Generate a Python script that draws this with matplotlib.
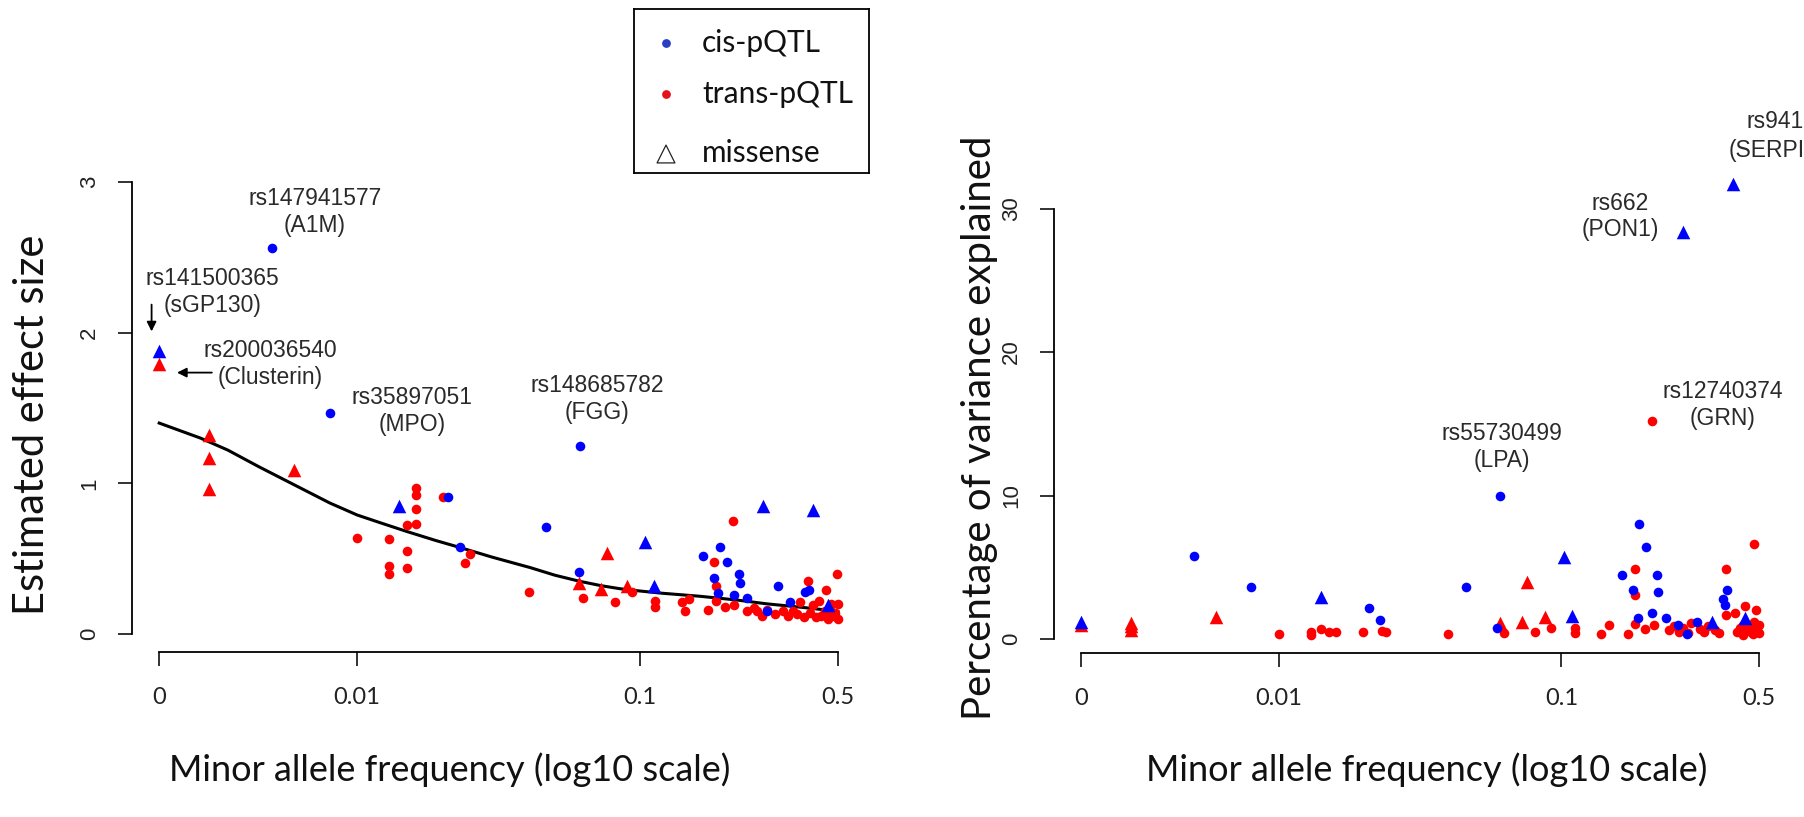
import matplotlib.pyplot as plt

W, H = 1804, 817

# ---------------- left panel: estimated effect size ----------------
left_cis_maf = [0.005, 0.008, 0.021, 0.0232, 0.0464, 0.0613, 0.061, 0.167, 0.192, 0.203,
                0.183, 0.223, 0.225, 0.189, 0.214, 0.239, 0.308, 0.34, 0.382, 0.394, 0.282]
left_cis_eff = [2.56, 1.47, 0.91, 0.58, 0.71, 1.25, 0.41, 0.52, 0.58, 0.48,
                0.37, 0.40, 0.34, 0.27, 0.26, 0.24, 0.32, 0.21, 0.28, 0.29, 0.15]

left_cis_mis_maf = [0.002, 0.0141, 0.104, 0.112, 0.273, 0.41, 0.461]
left_cis_mis_eff = [1.88, 0.85, 0.61, 0.32, 0.85, 0.82, 0.19]

left_trans_mis_maf = [0.002, 0.003, 0.003, 0.003, 0.006, 0.061, 0.0727, 0.0762, 0.090]
left_trans_mis_eff = [1.79, 1.32, 1.17, 0.96, 1.09, 0.34, 0.30, 0.54, 0.32]

left_trans_maf = [0.01, 0.013, 0.013, 0.013, 0.015, 0.015, 0.015, 0.0161, 0.0161, 0.0161,
                  0.0161, 0.0202, 0.0241, 0.025, 0.0404, 0.063, 0.0815, 0.0937, 0.113, 0.113,
                  0.141, 0.144, 0.149, 0.174, 0.185, 0.186, 0.183, 0.200, 0.214, 0.213,
                  0.239, 0.252, 0.260, 0.282, 0.321, 0.332, 0.348, 0.369, 0.391, 0.410,
                  0.428, 0.435, 0.453, 0.472, 0.484, 0.495, 0.50, 0.50, 0.461, 0.36,
                  0.38, 0.40, 0.45, 0.49, 0.42, 0.47, 0.30, 0.27]
left_trans_eff = [0.64, 0.63, 0.45, 0.40, 0.72, 0.55, 0.44, 0.97, 0.92, 0.83,
                  0.73, 0.91, 0.47, 0.53, 0.28, 0.24, 0.21, 0.28, 0.22, 0.18,
                  0.21, 0.15, 0.23, 0.16, 0.22, 0.32, 0.48, 0.18, 0.19, 0.75,
                  0.15, 0.17, 0.15, 0.16, 0.15, 0.12, 0.15, 0.21, 0.35, 0.19,
                  0.22, 0.12, 0.29, 0.20, 0.12, 0.40, 0.10, 0.20, 0.10, 0.13,
                  0.11, 0.14, 0.15, 0.14, 0.11, 0.16, 0.13, 0.12]

# fitted trend line
curve_maf = [0.002, 0.0028, 0.0035, 0.0045, 0.006, 0.008, 0.01, 0.012, 0.015, 0.019,
             0.023, 0.03, 0.041, 0.05, 0.061, 0.073, 0.085, 0.1, 0.12, 0.163,
             0.22, 0.28, 0.38, 0.5]
curve_eff = [1.40, 1.30, 1.22, 1.11, 0.99, 0.87, 0.79, 0.74, 0.68, 0.62,
             0.575, 0.51, 0.44, 0.39, 0.35, 0.32, 0.30, 0.285, 0.27, 0.25,
             0.225, 0.20, 0.175, 0.15]

# ---------------- right panel: % variance explained ----------------
right_cis_maf = [0.005, 0.008, 0.0209, 0.0228, 0.0459, 0.0605, 0.059, 0.164, 0.188, 0.199,
                 0.179, 0.218, 0.22, 0.187, 0.209, 0.234, 0.258, 0.278, 0.301, 0.385,
                 0.372, 0.38]
right_cis_pve = [5.8, 3.6, 2.2, 1.33, 3.6, 10.0, 0.77, 4.5, 8.0, 6.4,
                 3.4, 4.5, 3.3, 1.5, 1.8, 1.5, 1.0, 0.35, 1.2, 3.4,
                 2.8, 2.4]

right_cis_mis_maf = [0.002, 0.0141, 0.1024, 0.109, 0.269, 0.404, 0.340, 0.445]
right_cis_mis_pve = [1.19, 2.9, 5.7, 1.6, 28.4, 31.75, 1.2, 1.5]

right_trans_mis_maf = [0.002, 0.003, 0.003, 0.003, 0.006, 0.0605, 0.0724, 0.0753, 0.0877]
right_trans_mis_pve = [0.98, 1.1, 0.9, 0.65, 1.53, 1.1, 1.19, 4.0, 1.53]

right_trans_maf = [0.01, 0.013, 0.013, 0.0141, 0.0151, 0.016, 0.0199, 0.0232, 0.024, 0.0397,
                   0.0625, 0.081, 0.092, 0.112, 0.112, 0.138, 0.148, 0.172, 0.182, 0.182,
                   0.182, 0.197, 0.209, 0.212, 0.287, 0.383, 0.383, 0.482, 0.445, 0.49,
                   0.413, 0.24, 0.25, 0.26, 0.27, 0.28, 0.31, 0.32, 0.33, 0.35,
                   0.36, 0.42, 0.43, 0.44, 0.45, 0.46, 0.47, 0.48, 0.49, 0.50,
                   0.50, 0.475, 0.44]
right_trans_pve = [0.35, 0.49, 0.28, 0.70, 0.49, 0.49, 0.49, 0.56, 0.49, 0.35,
                   0.42, 0.49, 0.77, 0.77, 0.42, 0.35, 0.98, 0.35, 4.9, 3.1,
                   1.05, 0.70, 15.2, 1.0, 1.1, 4.9, 1.7, 6.6, 2.3, 2.0,
                   1.8, 0.6, 0.9, 0.5, 0.8, 0.45, 0.7, 0.5, 0.9, 0.6,
                   0.4, 0.5, 0.8, 1.0, 0.6, 0.9, 0.5, 1.2, 0.7, 0.4,
                   1.0, 0.35, 0.3]

x_ticks = [0.002, 0.01, 0.1, 0.5]
x_tick_labels = ["0", "0.01", "0.1", "0.5"]
legend_labels = ["cis-pQTL", "trans-pQTL", "missense"]

ARIAL = "Liberation Sans"
CALIBRI = "Lato"


def style_axis(ax, y_ticks, ylim):
    ax.set_xscale("log")
    ax.set_xlim(0.001603, 0.6237)
    ax.set_ylim(*ylim)
    for side in ["top", "right"]:
        ax.spines[side].set_visible(False)
    ax.spines["left"].set_bounds(y_ticks[0], y_ticks[-1])
    ax.spines["bottom"].set_bounds(x_ticks[0], x_ticks[-1])
    for side in ["left", "bottom"]:
        ax.spines[side].set_linewidth(1.3)
    ax.set_xticks(x_ticks)
    ax.set_xticklabels(x_tick_labels, fontfamily=CALIBRI, fontsize=17)
    ax.xaxis.set_minor_locator(plt.NullLocator())
    ax.set_yticks(y_ticks)
    ax.set_yticklabels([str(v) for v in y_ticks], rotation=90, va="center",
                       fontfamily=ARIAL, fontsize=16)
    ax.tick_params(axis="x", length=10, width=1.3, pad=15, colors="#222222")
    ax.tick_params(axis="y", length=10, width=1.3, pad=13, colors="#222222")
    ax.patch.set_alpha(0)


def draw_points(ax, t_maf, t_val, tm_maf, tm_val, c_maf, c_val, cm_maf, cm_val):
    ax.scatter(t_maf, t_val, s=48, color="red", linewidths=0, zorder=3)
    ax.scatter(tm_maf, tm_val, s=95, marker="^", color="red", linewidths=0, zorder=3)
    ax.scatter(c_maf, c_val, s=48, color="blue", linewidths=0, zorder=4)
    ax.scatter(cm_maf, cm_val, s=95, marker="^", color="blue", linewidths=0, zorder=4)


fig = plt.figure(figsize=(W / 100, H / 100), dpi=100)

ax1 = fig.add_axes([132 / W, 1 - 652 / H, (865 - 132) / W, (652 - 164) / H])
style_axis(ax1, [0, 1, 2, 3], (-0.12, 3.12))
ax1.plot(curve_maf, curve_eff, color="black", lw=2.2, zorder=2)
draw_points(ax1, left_trans_maf, left_trans_eff, left_trans_mis_maf, left_trans_mis_eff,
            left_cis_maf, left_cis_eff, left_cis_mis_maf, left_cis_mis_eff)

ann = dict(ha="center", va="center", fontfamily=ARIAL, fontsize=16.5,
           color="#2a2a2a", linespacing=1.22)
ax1.text(0.0071, 2.80, "rs147941577\n(A1M)", **ann)
ax1.text(0.00308, 2.27, "rs141500365\n(sGP130)", **ann)
ax1.text(0.00492, 1.79, "rs200036540\n(Clusterin)", **ann)
ax1.text(0.01567, 1.48, "rs35897051\n(MPO)", **ann)
ax1.text(0.0705, 1.56, "rs148685782\n(FGG)", **ann)
arrow = dict(arrowstyle="-|>", color="black", lw=1.3, mutation_scale=14)
ax1.annotate("", xy=(0.00188, 1.99), xytext=(0.00188, 2.205), arrowprops=arrow)
ax1.annotate("", xy=(0.00226, 1.735), xytext=(0.00314, 1.735), arrowprops=arrow)

ax2 = fig.add_axes([1054 / W, 1 - 653 / H, (1786 - 1054) / W, (653 - 167) / H])
style_axis(ax2, [0, 10, 20, 30], (-0.97, 32.9))
draw_points(ax2, right_trans_maf, right_trans_pve, right_trans_mis_maf, right_trans_mis_pve,
            right_cis_maf, right_cis_pve, right_cis_mis_maf, right_cis_mis_pve)
ax2.text(0.1614, 29.45, "rs662\n(PON1)", **ann)
ax2.text(0.372, 16.3, "rs12740374\n(GRN)", **ann)
ax2.text(0.0615, 13.4, "rs55730499\n(LPA)", **ann)
# label cut off by the right edge of the figure
fig.text(1746 / W, 1 - 122 / H, "rs941", ha="left", va="center",
         fontfamily=ARIAL, fontsize=16.5, color="#2a2a2a")
fig.text(1729 / W, 1 - 150 / H, "(SERPI", ha="left", va="center",
         fontfamily=ARIAL, fontsize=16.5, color="#2a2a2a")

# axis titles
lab = dict(fontfamily=CALIBRI, color="#111111", ha="center", va="center")
fig.text(450 / W, 1 - 770 / H, "Minor allele frequency (log10 scale)", fontsize=26, **lab)
fig.text(1427 / W, 1 - 770 / H, "Minor allele frequency (log10 scale)", fontsize=26, **lab)
fig.text(32 / W, 1 - 425 / H, "Estimated effect size", rotation=90, fontsize=30, **lab)
fig.text(980 / W, 1 - 428 / H, "Percentage of variance explained", rotation=90,
         fontsize=29, **lab)

# legend box, drawn in pixel coordinates
axl = fig.add_axes([634 / W, 1 - 173 / H, (869 - 634) / W, (173 - 9) / H])
axl.set_xlim(634, 869)
axl.set_ylim(173, 9)
axl.set_xticks([])
axl.set_yticks([])
for sp in axl.spines.values():
    sp.set_linewidth(1.3)
rows = [43, 94, 153]
axl.scatter([666], [rows[0]], s=40, color="#2a3fc4", linewidths=0)
axl.scatter([666], [rows[1]], s=40, color="#e3121b", linewidths=0)
axl.scatter([666], [rows[2] + 1], s=165, marker="^", facecolors="none",
            edgecolors="#222222", linewidths=0.9)
for r, t in zip(rows, legend_labels):
    axl.text(702, r, t, ha="left", va="center", fontfamily=CALIBRI, fontsize=21.5, color="#111111")

fig.savefig("out.png", dpi=100)
